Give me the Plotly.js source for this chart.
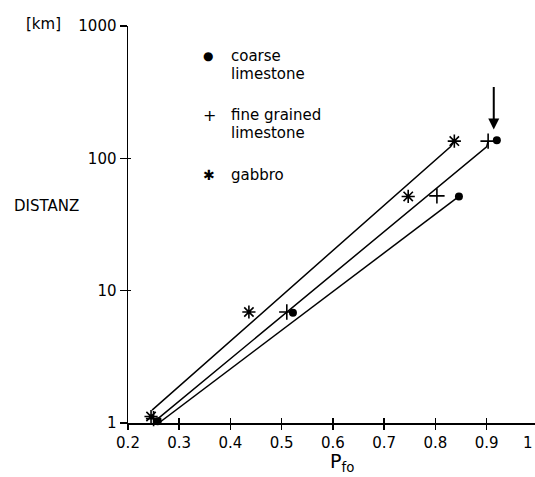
<!DOCTYPE html>
<html><head><meta charset="utf-8">
<script src="https://cdn.plot.ly/plotly-3.0.1.min.js"></script>
<style>html,body{margin:0;padding:0;background:#fff}#c{width:535px;height:477px}</style>
</head><body><div id="c"></div>
<script>
// Data points (P_fo, distance in km)
const coarseX = [0.258, 0.522, 0.846, 0.920];
const coarseY = [1.03, 6.8, 51.5, 137];
const fineX = [0.250, 0.510, 0.803, 0.903];
const fineY = [1.08, 6.9, 52, 135];
const gabbroX = [0.245, 0.436, 0.747, 0.837];
const gabbroY = [1.12, 6.9, 51.5, 135];
// Fitted lines
const coarseLineX = [0.260, 0.846];
const coarseLineY = [1.0, 51.5];
const fineLineX = [0.255, 0.900, 0.903];
const fineLineY = [1.05, 122, 135];
const gabbroLineX = [0.247, 0.830, 0.837];
const gabbroLineY = [1.25, 123, 135];
const xTicks = [0.2, 0.3, 0.4, 0.5, 0.6, 0.7, 0.8, 0.9];
const yTicks = [1, 10, 100, 1000];
const yTickText = ['1', '10', '100', '1000'];

const F = 'DejaVu Sans, sans-serif';
const line = (x, y) => ({x, y, mode: 'lines', line: {color: '#000', width: 1.5}, showlegend: false, hoverinfo: 'skip', cliponaxis: false});
const traces = [
  line(coarseLineX, coarseLineY),
  line(fineLineX, fineLineY),
  line(gabbroLineX, gabbroLineY),
  {x: coarseX, y: coarseY, mode: 'markers', marker: {symbol: 'circle', size: 8, color: '#000'}, showlegend: false, cliponaxis: false},
  {x: fineX, y: fineY, mode: 'markers', marker: {symbol: 'cross-thin-open', size: 11, color: '#000', line: {color: '#000', width: 1.6}}, showlegend: false, cliponaxis: false},
  {x: gabbroX, y: gabbroY, mode: 'markers', marker: {symbol: 'asterisk-open', size: 11, color: '#000', line: {color: '#000', width: 1.6}}, showlegend: false, cliponaxis: false},
  {x: [null], y: [null], xaxis: 'x2', yaxis: 'y2', showlegend: false, hoverinfo: 'skip'}
];

const ann = (x, y, text, opts) => Object.assign({xref: 'paper', yref: 'paper', x, y, text, showarrow: false, xanchor: 'left', yanchor: 'middle', font: {family: F, size: 15, color: '#000'}}, opts || {});
const px = v => (v - 128) / 407;
const py = v => (423 - v) / 397;

const layout = {
  width: 535, height: 477,
  margin: {l: 128, r: 0, t: 26, b: 54},
  paper_bgcolor: '#fff', plot_bgcolor: '#fff',
  font: {family: F, size: 15, color: '#000'},
  showlegend: false,
  xaxis: {range: [0.2, 0.9945], tickvals: xTicks, ticktext: xTicks.map(v => v.toFixed(1)),
    showgrid: false, zeroline: false, showline: true, linecolor: '#000', linewidth: 1.5,
    ticks: 'outside', ticklen: 5, tickwidth: 1.5, tickcolor: '#000',
    tickfont: {family: F, size: 15}, fixedrange: true},
  yaxis: {type: 'log', range: [0, 3], tickvals: yTicks, ticktext: yTickText,
    showgrid: false, zeroline: false, showline: true, linecolor: '#000', linewidth: 1.5,
    ticks: 'outside', ticklen: 7, tickwidth: 1.5, tickcolor: '#000',
    tickfont: {family: F, size: 15}, fixedrange: true},
  xaxis2: {overlaying: 'x', range: [0.2, 0.9945], tickvals: xTicks, showticklabels: false,
    showgrid: false, zeroline: false, showline: false, ticks: 'inside', ticklen: 5, tickwidth: 1.5, tickcolor: '#000'},
  yaxis2: {overlaying: 'y', type: 'log', range: [0, 3], tickvals: yTicks, showticklabels: false,
    showgrid: false, zeroline: false, showline: false, ticks: 'inside', ticklen: 3, tickwidth: 1.5, tickcolor: '#000'},
  annotations: [
    ann(px(24), py(24), '[km]'),
    ann(px(12), py(206), 'DISTANZ'),
    ann(px(342), py(462), 'P<sub>fo</sub>', {xanchor: 'center', font: {family: F, size: 19, color: '#000'}}),
    ann(px(535), py(443), '1', {xanchor: 'right'}),
    // legend
    ann(px(208), py(56), '●', {xanchor: 'center', font: {family: F, size: 12, color: '#000'}}),
    ann(px(229), py(56), 'coarse'),
    ann(px(229), py(74), 'limestone'),
    ann(px(209), py(115), '+', {xanchor: 'center', font: {family: F, size: 16, color: '#000'}}),
    ann(px(229), py(115), 'fine grained'),
    ann(px(229), py(133), 'limestone'),
    ann(px(209), py(175), '✱', {xanchor: 'center', font: {family: F, size: 14, color: '#000'}}),
    ann(px(229), py(175), 'gabbro'),
    // arrow
    {xref: 'x', yref: 'y', x: 0.914, y: Math.log10(165), ax: 0, ay: -44, showarrow: true,
     arrowhead: 2, arrowsize: 1.1, arrowwidth: 2, arrowcolor: '#000', text: ''}
  ]
};
Plotly.newPlot('c', traces, layout, {staticPlot: true, displayModeBar: false});
</script></body></html>
